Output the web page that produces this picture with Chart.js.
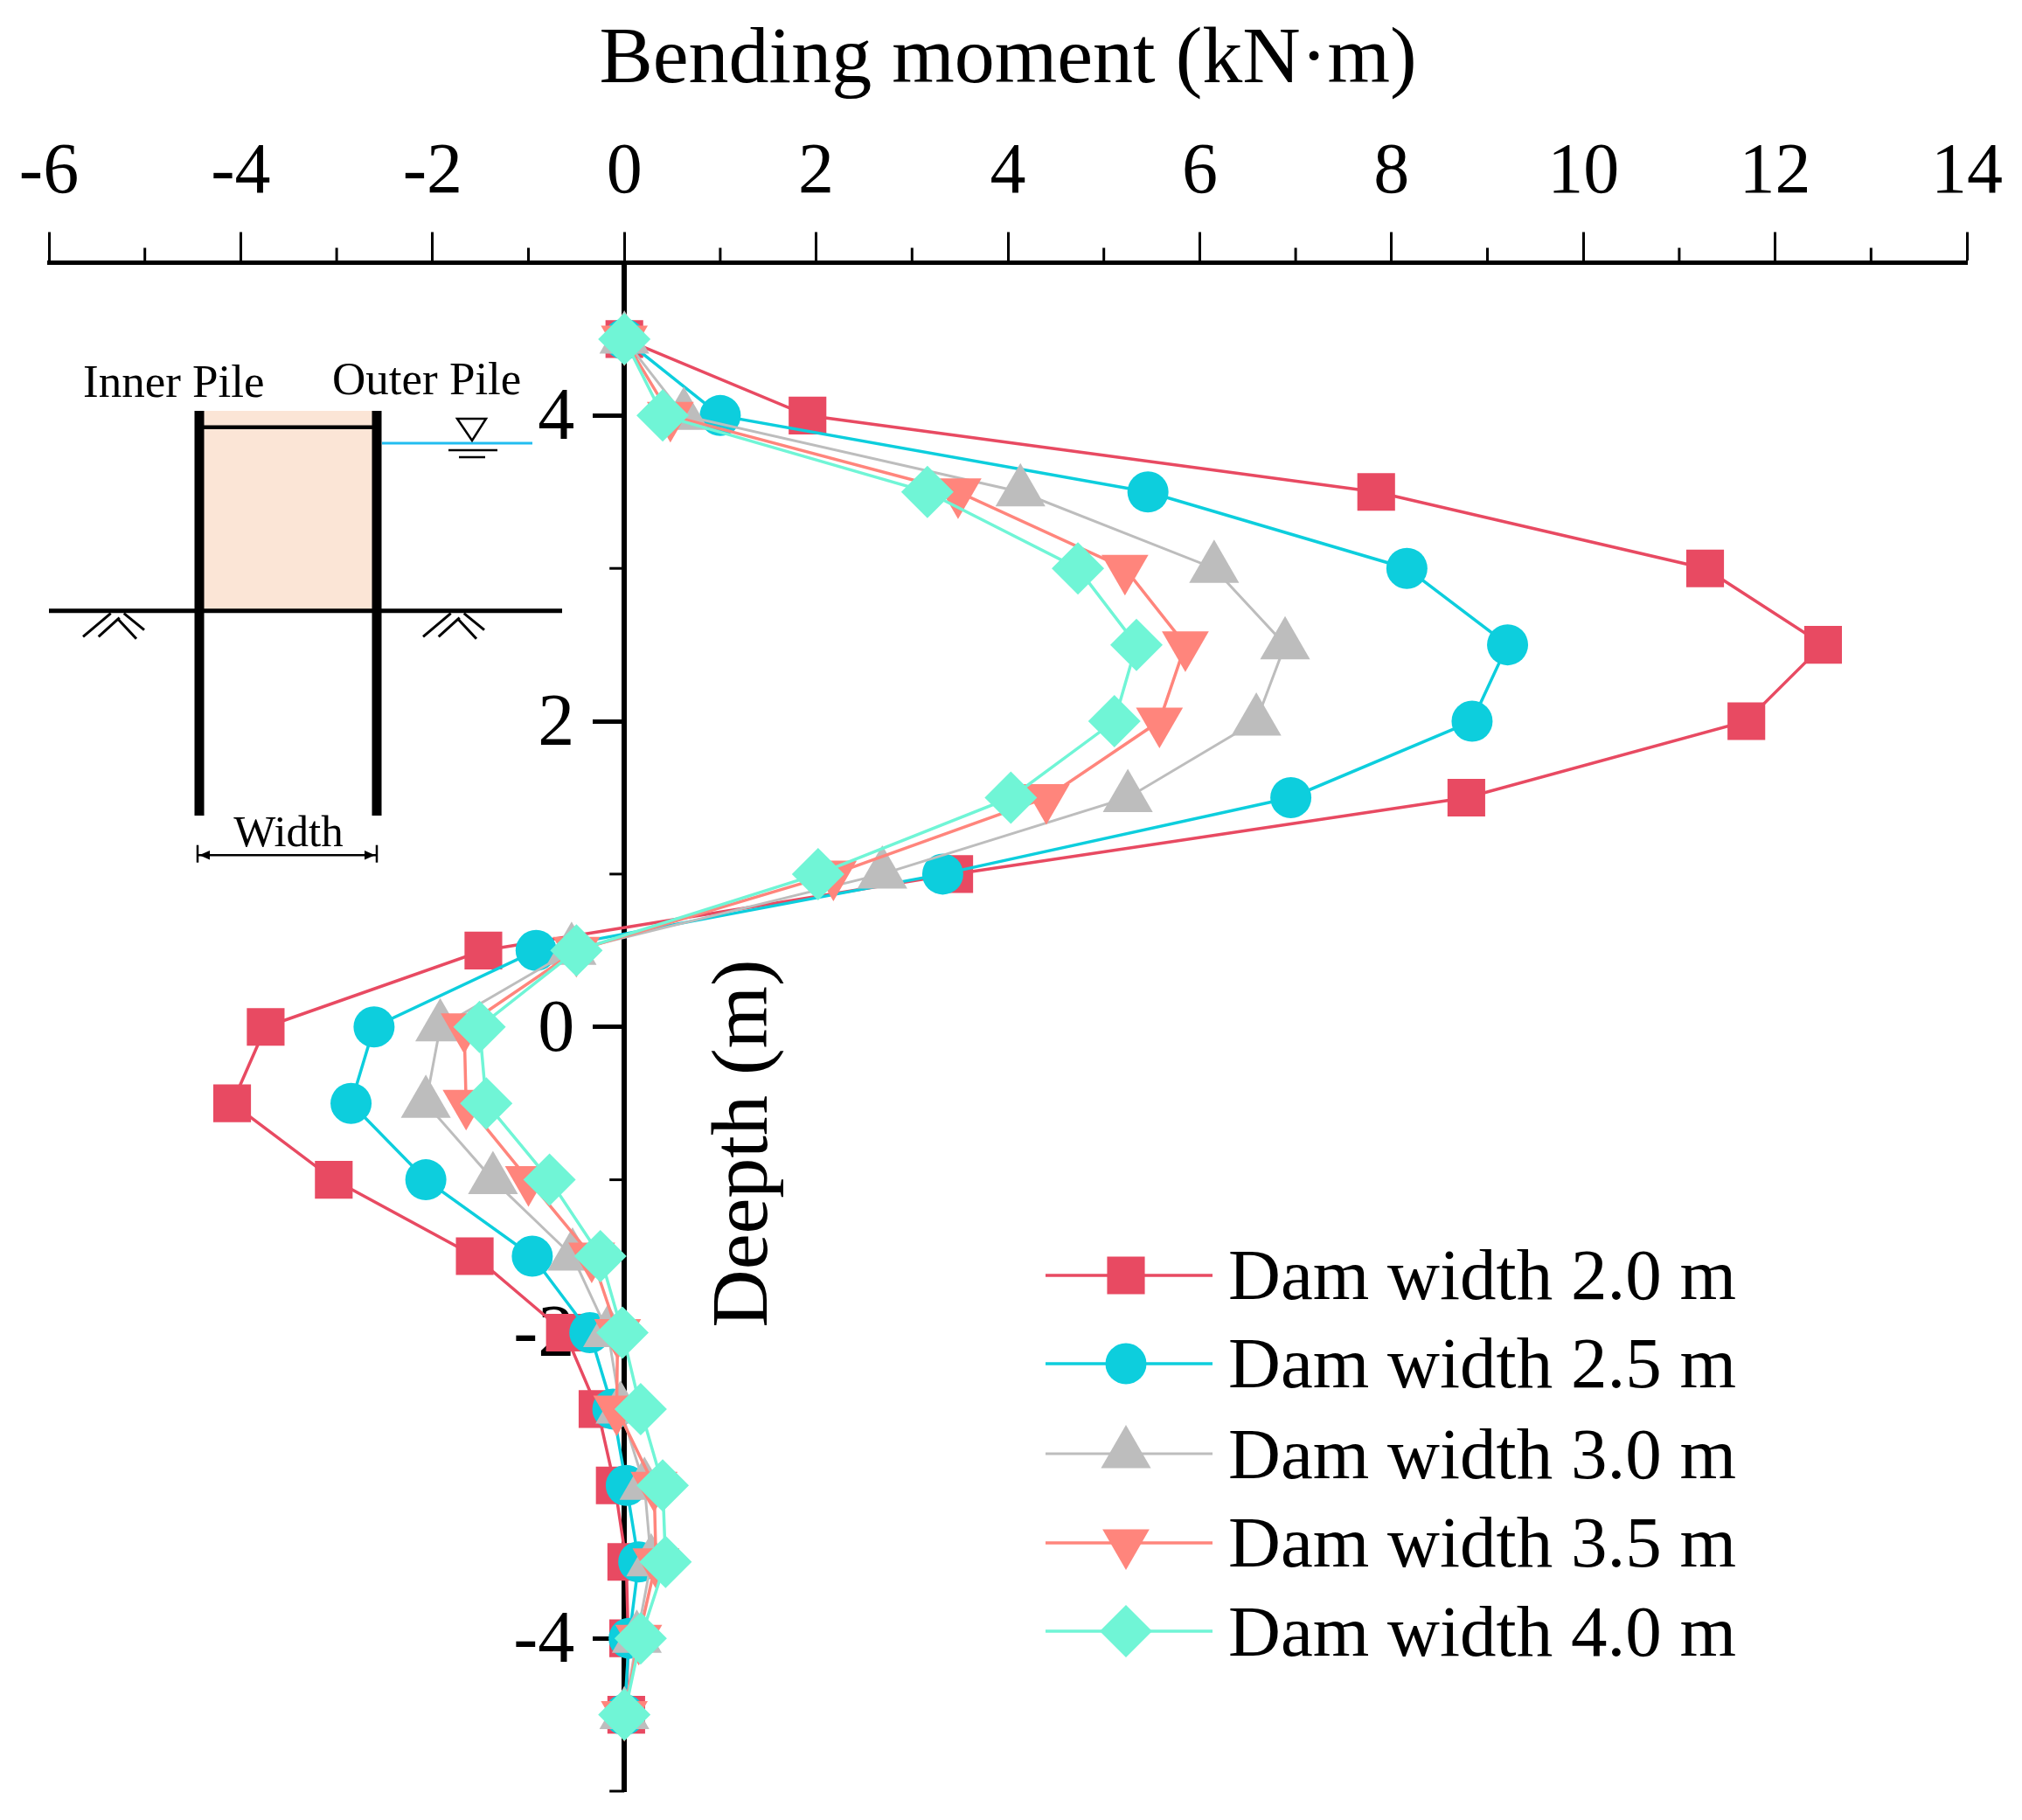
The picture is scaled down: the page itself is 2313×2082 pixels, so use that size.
<!DOCTYPE html>
<html>
<head>
<meta charset="utf-8">
<title>Bending moment</title>
<script src="https://cdn.jsdelivr.net/npm/chart.js@4/dist/chart.umd.js"></script>
<style>
  html, body { margin: 0; padding: 0; background: #fff; }
  canvas { display: block; }
</style>
</head>
<body>
<canvas id="momentChart" width="2313" height="2082"></canvas>
<script>
// depth of each reading, m
const depths = [4.5, 4, 3.5, 3, 2.5, 2, 1.5, 1, 0.5, 0, -0.5, -1, -1.5, -2, -2.5, -3, -3.5, -4, -4.5];

// bending moment per dam width, kN·m
const width20 = [0, 1.91, 7.84, 11.27, 12.5, 11.7, 8.78, 3.44, -1.47, -3.74, -4.09, -3.03, -1.56, -0.62, -0.28, -0.1, 0.02, 0.04, 0.02];
const width25 = [0, 1.0, 5.46, 8.16, 9.21, 8.84, 6.95, 3.32, -0.92, -2.61, -2.85, -2.07, -0.96, -0.36, -0.12, 0.02, 0.15, 0.05, 0];
const width30 = [0, 0.62, 4.13, 6.15, 6.89, 6.59, 5.25, 2.69, -0.55, -1.92, -2.07, -1.37, -0.54, -0.17, -0.04, 0.21, 0.28, 0.13, 0];
const width35 = [0, 0.48, 3.48, 5.22, 5.85, 5.58, 4.4, 2.18, -0.5, -1.67, -1.65, -1.0, -0.34, -0.07, -0.08, 0.31, 0.33, 0.15, 0];
const width40 = [0, 0.4, 3.16, 4.73, 5.34, 5.11, 4.03, 2.02, -0.5, -1.51, -1.44, -0.78, -0.25, -0.02, 0.17, 0.4, 0.43, 0.17, 0];

const seriesNames = ['Dam width 2.0 m', 'Dam width 2.5 m', 'Dam width 3.0 m', 'Dam width 3.5 m', 'Dam width 4.0 m'];
const seriesValues = [width20, width25, width30, width35, width40];
const seriesColors = ['#E84A62', '#0DCEDD', '#BDBDBD', '#FF857C', '#70F5D6'];
const seriesMarkers = ['rect', 'circle', 'triangle', 'triangle', 'rectRot'];
const markerSizes = [30.5, 23.5, 33, 31, 30];
const markerTurns = [0, 0, 0, 180, 0];
const lineWidths = [3.5, 3.5, 3, 3.5, 3.5];

const serif = '"Liberation Serif", "Times New Roman", serif';

function makeDataset(name, i) {
    return {
        label: name,
        data: seriesValues[i].map((v, k) => ({ x: v, y: depths[k] })),
        showLine: true,
        borderColor: seriesColors[i],
        backgroundColor: seriesColors[i],
        borderWidth: lineWidths[i],
        pointStyle: seriesMarkers[i],
        pointRadius: markerSizes[i],
        pointRotation: markerTurns[i],
        pointBorderWidth: 0,
        clip: false,
        order: seriesNames.length - i
    };
}

// ticks at odd values are half length and carry no label
const axisDecor = {
    id: 'axisDecor',
    beforeDatasetsDraw(chart) {
        const ctx = chart.ctx;
        const xs = chart.scales.x;
        const ys = chart.scales.y;
        const zero = xs.getPixelForValue(0);
        ctx.save();
        ctx.strokeStyle = '#000';
        ctx.lineWidth = 3;
        xs.ticks.forEach(t => {
            if (t.value % 2 === 0) return;
            const px = xs.getPixelForValue(t.value);
            ctx.beginPath();
            ctx.moveTo(px, xs.bottom);
            ctx.lineTo(px, xs.bottom - 17);
            ctx.stroke();
        });
        ctx.fillStyle = '#000';
        ctx.font = '84px ' + serif;
        ctx.textAlign = 'right';
        ctx.textBaseline = 'alphabetic';
        ys.ticks.forEach(t => {
            const py = ys.getPixelForValue(t.value);
            if (t.value % 2 === 0) {
                // the library puts these labels on top of the axis, so they go here
                ctx.fillText(String(t.value), zero - 57, py + 27);
                return;
            }
            ctx.beginPath();
            ctx.moveTo(zero, py);
            ctx.lineTo(zero - 17, py);
            ctx.stroke();
        });
        ctx.restore();
    }
};

function drawHatch(ctx, cx, cy) {
    const segs = [[-43, 29.6, -11.3, 3], [-25.3, 29.6, -1.3, 8], [3.7, 3, 27, 22], [-3, 9.6, 18, 32]];
    ctx.lineWidth = 3;
    segs.forEach(s => {
        ctx.beginPath();
        ctx.moveTo(cx + s[0], cy + s[1]);
        ctx.lineTo(cx + s[2], cy + s[3]);
        ctx.stroke();
    });
}

function strokeLine(ctx, x1, y1, x2, y2, w) {
    ctx.lineWidth = w;
    ctx.beginPath();
    ctx.moveTo(x1, y1);
    ctx.lineTo(x2, y2);
    ctx.stroke();
}

// small sketch of the two piles, upper left
const pileSketch = {
    id: 'pileSketch',
    afterDraw(chart) {
        const ctx = chart.ctx;
        ctx.save();
        ctx.fillStyle = '#FBE5D6';
        ctx.fillRect(233, 470, 193, 229);
        ctx.strokeStyle = '#000';
        strokeLine(ctx, 228, 470, 228, 933, 11);
        strokeLine(ctx, 431, 470, 431, 933, 11);
        strokeLine(ctx, 233, 488.7, 426, 488.7, 4.5);
        strokeLine(ctx, 56, 698.7, 643, 698.7, 5);
        drawHatch(ctx, 138, 698.7);
        drawHatch(ctx, 527, 698.7);

        // water level
        ctx.strokeStyle = '#22BDF0';
        strokeLine(ctx, 437, 507, 609, 507, 3);
        ctx.strokeStyle = '#000';
        ctx.lineWidth = 2.5;
        ctx.beginPath();
        ctx.moveTo(523, 479);
        ctx.lineTo(556, 479);
        ctx.lineTo(540, 504);
        ctx.closePath();
        ctx.stroke();
        strokeLine(ctx, 513, 515, 569, 515, 2.5);
        strokeLine(ctx, 525, 523, 555, 523, 2.5);

        // width dimension
        strokeLine(ctx, 226, 978.3, 431, 978.3, 2.5);
        strokeLine(ctx, 226, 966.7, 226, 986.7, 2.5);
        strokeLine(ctx, 431, 966.7, 431, 986.7, 2.5);
        ctx.fillStyle = '#000';
        ctx.beginPath();
        ctx.moveTo(228, 978.3);
        ctx.lineTo(240, 973);
        ctx.lineTo(240, 983.5);
        ctx.closePath();
        ctx.moveTo(429, 978.3);
        ctx.lineTo(417, 973);
        ctx.lineTo(417, 983.5);
        ctx.closePath();
        ctx.fill();

        ctx.textBaseline = 'alphabetic';
        ctx.font = '53px ' + serif;
        ctx.textAlign = 'left';
        ctx.fillText('Inner Pile', 95, 453.6);
        ctx.fillText('Outer Pile', 380, 450.6);
        ctx.font = '51px ' + serif;
        ctx.textAlign = 'center';
        ctx.fillText('Width', 330, 967.7);
        ctx.restore();
    }
};

// legend sits inside the plot, line with the marker on top
const legendRows = {
    id: 'legendRows',
    afterDraw(chart) {
        const ctx = chart.ctx;
        const lineY = [1459, 1560, 1663, 1765, 1866];
        const textY = [1486, 1587, 1691, 1792, 1894];
        ctx.save();
        seriesNames.forEach((name, i) => {
            ctx.strokeStyle = seriesColors[i];
            ctx.fillStyle = seriesColors[i];
            strokeLine(ctx, 1196, lineY[i], 1387, lineY[i], lineWidths[i]);
            Chart.helpers.drawPoint(ctx, {
                pointStyle: seriesMarkers[i],
                radius: markerSizes[i],
                rotation: markerTurns[i],
                borderWidth: 0
            }, 1288, lineY[i]);
            ctx.fillStyle = '#000';
            ctx.font = '83px ' + serif;
            ctx.textAlign = 'left';
            ctx.textBaseline = 'alphabetic';
            ctx.fillText(name, 1405, textY[i]);
        });

        // depth axis title
        ctx.translate(877, 1308);
        ctx.rotate(-Math.PI / 2);
        ctx.font = '92px ' + serif;
        ctx.textAlign = 'center';
        ctx.fillText('Deepth (m)', 0, 0);
        ctx.restore();
    }
};

const ctx = document.getElementById('momentChart').getContext('2d');
new Chart(ctx, {
    type: 'scatter',
    data: { datasets: seriesNames.map(makeDataset) },
    plugins: [axisDecor, pileSketch, legendRows],
    options: {
        responsive: false,
        animation: false,
        layout: { padding: { left: 56, right: 63, top: 0, bottom: 25 } },
        plugins: {
            legend: { display: false },
            tooltip: { enabled: false }
        },
        scales: {
            x: {
                position: 'top',
                min: -6,
                max: 14,
                afterFit(s) { s.height = 300.5; s.paddingLeft = 0; s.paddingRight = 0; },
                title: {
                    display: true,
                    text: 'Bending moment (kN·m)',
                    color: '#000',
                    font: { family: serif, size: 92 },
                    padding: { top: 15, bottom: 0 }
                },
                ticks: {
                    stepSize: 1,
                    autoSkip: false,
                    maxRotation: 0,
                    padding: 18,
                    color: '#000',
                    font: { family: serif, size: 82 },
                    callback: v => (v % 2 === 0 ? String(v) : '')
                },
                border: { color: '#000', width: 5 },
                grid: {
                    drawOnChartArea: false,
                    tickLength: 35,
                    tickWidth: 3,
                    tickColor: c => (c.tick && c.tick.value % 2 === 0 ? '#000' : 'rgba(0,0,0,0)')
                }
            },
            y: {
                position: { x: 0 },
                min: -5,
                max: 5,
                afterFit(s) { s.paddingTop = 0; s.paddingBottom = 0; },
                ticks: {
                    display: false,
                    stepSize: 1,
                    autoSkip: false
                },
                border: { color: '#000', width: 6 },
                grid: {
                    drawOnChartArea: false,
                    tickLength: 33,
                    tickWidth: 5,
                    tickColor: c => (c.tick && c.tick.value % 2 === 0 ? '#000' : 'rgba(0,0,0,0)')
                }
            }
        }
    }
});
</script>
</body>
</html>
